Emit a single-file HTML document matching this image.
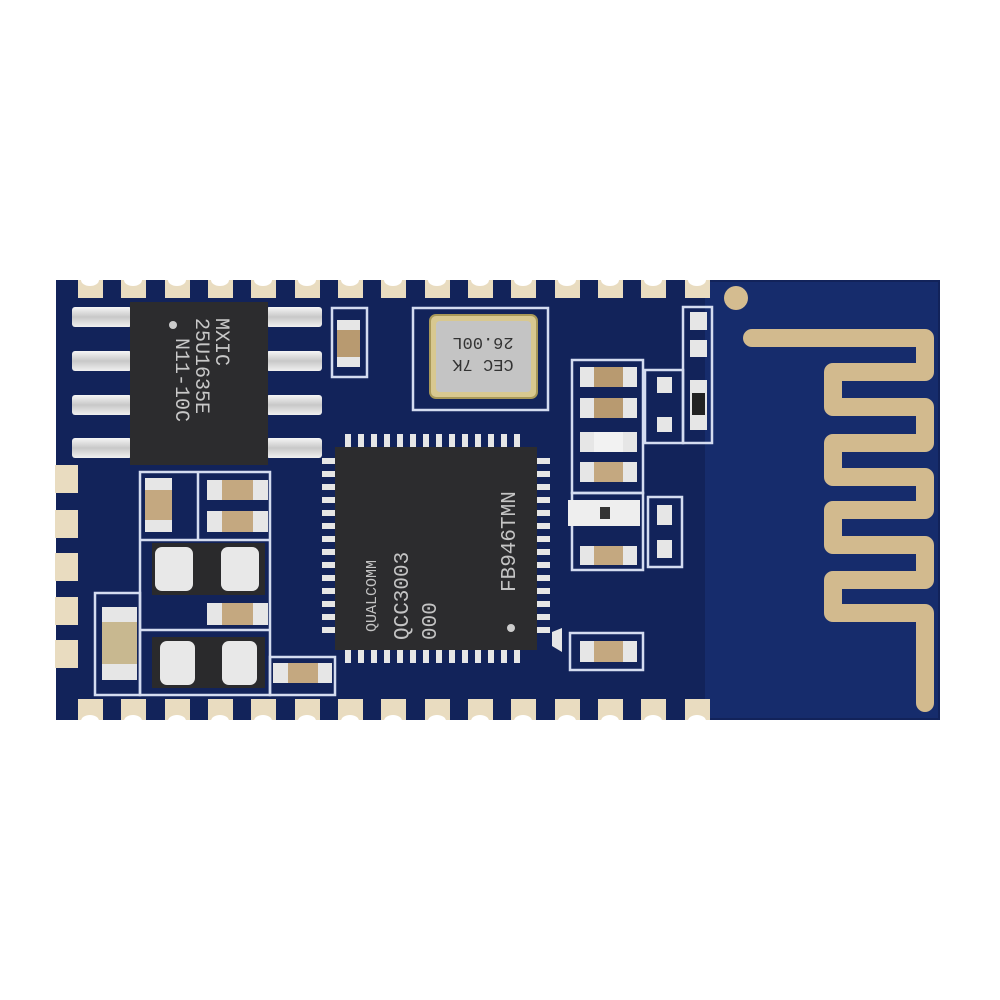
<!DOCTYPE html>
<html><head><style>html,body{margin:0;padding:0;background:#fff;width:1000px;height:1000px;overflow:hidden}</style></head>
<body>
<svg width="1000" height="1000" viewBox="0 0 1000 1000" xmlns="http://www.w3.org/2000/svg">
<defs>
<linearGradient id="pin" x1="0" y1="0" x2="0" y2="1"><stop offset="0" stop-color="#f6f6f6"/><stop offset="0.5" stop-color="#c8c8c8"/><stop offset="1" stop-color="#f0f0f0"/></linearGradient>
</defs>
<rect x="0" y="0" width="1000" height="1000" fill="#fff"/>
<!-- board -->
<rect x="56" y="280" width="884" height="440" fill="#12235a"/>
<rect x="705" y="282" width="233" height="436" fill="#162c6c"/>
<!-- top & bottom pads -->
<g id="tp" fill="#e9dcc0">
<rect x="78" y="280" width="25" height="18"/><rect x="121" y="280" width="25" height="18"/><rect x="165" y="280" width="25" height="18"/><rect x="208" y="280" width="25" height="18"/><rect x="251" y="280" width="25" height="18"/><rect x="295" y="280" width="25" height="18"/><rect x="338" y="280" width="25" height="18"/><rect x="381" y="280" width="25" height="18"/><rect x="425" y="280" width="25" height="18"/><rect x="468" y="280" width="25" height="18"/><rect x="511" y="280" width="25" height="18"/><rect x="555" y="280" width="25" height="18"/><rect x="598" y="280" width="25" height="18"/><rect x="641" y="280" width="25" height="18"/><rect x="685" y="280" width="25" height="18"/>
<rect x="78" y="699" width="25" height="21"/><rect x="121" y="699" width="25" height="21"/><rect x="165" y="699" width="25" height="21"/><rect x="208" y="699" width="25" height="21"/><rect x="251" y="699" width="25" height="21"/><rect x="295" y="699" width="25" height="21"/><rect x="338" y="699" width="25" height="21"/><rect x="381" y="699" width="25" height="21"/><rect x="425" y="699" width="25" height="21"/><rect x="468" y="699" width="25" height="21"/><rect x="511" y="699" width="25" height="21"/><rect x="555" y="699" width="25" height="21"/><rect x="598" y="699" width="25" height="21"/><rect x="641" y="699" width="25" height="21"/><rect x="685" y="699" width="25" height="21"/>
<rect x="55" y="465" width="23" height="28"/><rect x="55" y="510" width="23" height="28"/><rect x="55" y="553" width="23" height="28"/><rect x="55" y="597" width="23" height="28"/><rect x="55" y="640" width="23" height="28"/>
</g>
<!-- castellation holes -->
<g fill="#fff">
<ellipse cx="90" cy="280" rx="9" ry="6"/><ellipse cx="133" cy="280" rx="9" ry="6"/><ellipse cx="177" cy="280" rx="9" ry="6"/><ellipse cx="220" cy="280" rx="9" ry="6"/><ellipse cx="263" cy="280" rx="9" ry="6"/><ellipse cx="307" cy="280" rx="9" ry="6"/><ellipse cx="350" cy="280" rx="9" ry="6"/><ellipse cx="393" cy="280" rx="9" ry="6"/><ellipse cx="437" cy="280" rx="9" ry="6"/><ellipse cx="480" cy="280" rx="9" ry="6"/><ellipse cx="523" cy="280" rx="9" ry="6"/><ellipse cx="567" cy="280" rx="9" ry="6"/><ellipse cx="610" cy="280" rx="9" ry="6"/><ellipse cx="653" cy="280" rx="9" ry="6"/><ellipse cx="697" cy="280" rx="9" ry="6"/>
<ellipse cx="90" cy="721" rx="9" ry="6"/><ellipse cx="133" cy="721" rx="9" ry="6"/><ellipse cx="177" cy="721" rx="9" ry="6"/><ellipse cx="220" cy="721" rx="9" ry="6"/><ellipse cx="263" cy="721" rx="9" ry="6"/><ellipse cx="307" cy="721" rx="9" ry="6"/><ellipse cx="350" cy="721" rx="9" ry="6"/><ellipse cx="393" cy="721" rx="9" ry="6"/><ellipse cx="437" cy="721" rx="9" ry="6"/><ellipse cx="480" cy="721" rx="9" ry="6"/><ellipse cx="523" cy="721" rx="9" ry="6"/><ellipse cx="567" cy="721" rx="9" ry="6"/><ellipse cx="610" cy="721" rx="9" ry="6"/><ellipse cx="653" cy="721" rx="9" ry="6"/><ellipse cx="697" cy="721" rx="9" ry="6"/>
</g>
<!-- silkscreen outlines -->
<g fill="none" stroke="#d4dcf0" stroke-width="2.5">
<rect x="413" y="308" width="135" height="102"/>
<rect x="140" y="472" width="130" height="223"/>
<rect x="95" y="593" width="45" height="102"/>
<rect x="270" y="657" width="65" height="38"/>
<rect x="332" y="308" width="35" height="69"/>
<rect x="572" y="360" width="71" height="133"/>
<rect x="645" y="370" width="38" height="73"/>
<rect x="683" y="307" width="29" height="136"/>
<rect x="572" y="493" width="71" height="77"/>
<rect x="648" y="497" width="34" height="70"/>
<rect x="570" y="633" width="73" height="37"/>
<line x1="140" y1="540" x2="270" y2="540"/>
<line x1="140" y1="630" x2="270" y2="630"/>
<line x1="198" y1="472" x2="198" y2="540"/>
</g>
<!-- SOP8 pins -->
<g fill="url(#pin)">
<rect x="72" y="307" width="60" height="20" rx="3"/><rect x="72" y="351" width="60" height="20" rx="3"/><rect x="72" y="395" width="60" height="20" rx="3"/><rect x="72" y="438" width="60" height="20" rx="3"/>
<rect x="266" y="307" width="56" height="20" rx="3"/><rect x="266" y="351" width="56" height="20" rx="3"/><rect x="266" y="395" width="56" height="20" rx="3"/><rect x="266" y="438" width="56" height="20" rx="3"/>
</g>
<rect x="130" y="302" width="138" height="163" fill="#2c2c2e"/>
<circle cx="173" cy="325" r="4" fill="#ccc"/>
<g font-family="Liberation Mono, monospace" font-size="20" fill="#c8c8c8">
<text transform="translate(216,318) rotate(90)">MXIC</text>
<text transform="translate(196,318) rotate(90)">25U1635E</text>
<text transform="translate(176,338) rotate(90)">N11-10C</text>
</g>
<!-- crystal -->
<rect x="430" y="315" width="107" height="83" rx="6" fill="#d8c890" stroke="#a89858" stroke-width="2"/>
<rect x="436" y="321" width="95" height="71" rx="4" fill="#c4c4c4"/>
<g font-family="Liberation Mono, monospace" font-size="17" fill="#333" text-anchor="middle">
<text transform="translate(483,338) rotate(180)">26.00L</text>
<text transform="translate(483,360) rotate(180)">CEC 7K</text>
</g>
<!-- QFN pins -->
<g fill="#e6e6e6">
<rect x="345" y="434" width="6" height="13"/><rect x="358" y="434" width="6" height="13"/><rect x="371" y="434" width="6" height="13"/><rect x="384" y="434" width="6" height="13"/><rect x="397" y="434" width="6" height="13"/><rect x="410" y="434" width="6" height="13"/><rect x="423" y="434" width="6" height="13"/><rect x="436" y="434" width="6" height="13"/><rect x="449" y="434" width="6" height="13"/><rect x="462" y="434" width="6" height="13"/><rect x="475" y="434" width="6" height="13"/><rect x="488" y="434" width="6" height="13"/><rect x="501" y="434" width="6" height="13"/><rect x="514" y="434" width="6" height="13"/>
<rect x="345" y="650" width="6" height="13"/><rect x="358" y="650" width="6" height="13"/><rect x="371" y="650" width="6" height="13"/><rect x="384" y="650" width="6" height="13"/><rect x="397" y="650" width="6" height="13"/><rect x="410" y="650" width="6" height="13"/><rect x="423" y="650" width="6" height="13"/><rect x="436" y="650" width="6" height="13"/><rect x="449" y="650" width="6" height="13"/><rect x="462" y="650" width="6" height="13"/><rect x="475" y="650" width="6" height="13"/><rect x="488" y="650" width="6" height="13"/><rect x="501" y="650" width="6" height="13"/><rect x="514" y="650" width="6" height="13"/>
<rect x="322" y="458" width="13" height="6"/><rect x="322" y="471" width="13" height="6"/><rect x="322" y="484" width="13" height="6"/><rect x="322" y="497" width="13" height="6"/><rect x="322" y="510" width="13" height="6"/><rect x="322" y="523" width="13" height="6"/><rect x="322" y="536" width="13" height="6"/><rect x="322" y="549" width="13" height="6"/><rect x="322" y="562" width="13" height="6"/><rect x="322" y="575" width="13" height="6"/><rect x="322" y="588" width="13" height="6"/><rect x="322" y="601" width="13" height="6"/><rect x="322" y="614" width="13" height="6"/><rect x="322" y="627" width="13" height="6"/>
<rect x="537" y="458" width="13" height="6"/><rect x="537" y="471" width="13" height="6"/><rect x="537" y="484" width="13" height="6"/><rect x="537" y="497" width="13" height="6"/><rect x="537" y="510" width="13" height="6"/><rect x="537" y="523" width="13" height="6"/><rect x="537" y="536" width="13" height="6"/><rect x="537" y="549" width="13" height="6"/><rect x="537" y="562" width="13" height="6"/><rect x="537" y="575" width="13" height="6"/><rect x="537" y="588" width="13" height="6"/><rect x="537" y="601" width="13" height="6"/><rect x="537" y="614" width="13" height="6"/><rect x="537" y="627" width="13" height="6"/>
</g>
<rect x="335" y="447" width="202" height="203" fill="#2c2c2e"/>
<circle cx="511" cy="628" r="4" fill="#ccc"/>
<polygon points="552,632 562,628 562,652 552,646" fill="#e6e6e6"/>
<g font-family="Liberation Mono, monospace" fill="#c4c4c4">
<text transform="translate(376,632) rotate(-90)" font-size="15">QUALCOMM</text>
<text transform="translate(408,640) rotate(-90)" font-size="21">QCC3003</text>
<text transform="translate(436,640) rotate(-90)" font-size="21">000</text>
<text transform="translate(515,592) rotate(-90)" font-size="21">FB946TMN</text>
</g>
<!-- passives -->
<g>
<rect x="337" y="320" width="23" height="47" fill="#e6e6e6"/><rect x="337" y="330" width="23" height="27" fill="#b89a70"/>
<rect x="145" y="478" width="27" height="54" fill="#e6e6e6"/><rect x="145" y="490" width="27" height="30" fill="#c4a880"/>
<rect x="207" y="480" width="61" height="20" fill="#e6e6e6"/><rect x="222" y="480" width="31" height="20" fill="#c4a880"/>
<rect x="207" y="511" width="61" height="21" fill="#e6e6e6"/><rect x="222" y="511" width="31" height="21" fill="#c4a880"/>
<rect x="152" y="543" width="113" height="52" fill="#2a2a2c"/><rect x="155" y="547" width="38" height="44" rx="7" fill="#e8e8e8"/><rect x="221" y="547" width="38" height="44" rx="7" fill="#e8e8e8"/>
<rect x="207" y="603" width="61" height="22" fill="#e6e6e6"/><rect x="222" y="603" width="31" height="22" fill="#c4a880"/>
<rect x="152" y="637" width="113" height="51" fill="#2a2a2c"/><rect x="160" y="641" width="35" height="44" rx="7" fill="#e8e8e8"/><rect x="222" y="641" width="35" height="44" rx="7" fill="#e8e8e8"/>
<rect x="102" y="607" width="35" height="73" fill="#e6e6e6"/><rect x="102" y="622" width="35" height="42" fill="#c8b890"/>
<rect x="273" y="663" width="59" height="20" fill="#e6e6e6"/><rect x="288" y="663" width="30" height="20" fill="#c4a880"/>
<rect x="580" y="367" width="57" height="20" fill="#e6e6e6"/><rect x="594" y="367" width="29" height="20" fill="#b89a70"/>
<rect x="580" y="398" width="57" height="20" fill="#e6e6e6"/><rect x="594" y="398" width="29" height="20" fill="#b89a70"/>
<rect x="580" y="432" width="57" height="20" fill="#e6e6e6"/><rect x="594" y="432" width="29" height="20" fill="#f2f2f2"/>
<rect x="580" y="462" width="57" height="20" fill="#e6e6e6"/><rect x="594" y="462" width="29" height="20" fill="#c4a880"/>
<rect x="580" y="546" width="57" height="19" fill="#e6e6e6"/><rect x="594" y="546" width="29" height="19" fill="#c4a880"/>
<rect x="580" y="641" width="57" height="21" fill="#e6e6e6"/><rect x="594" y="641" width="29" height="21" fill="#c4a880"/>
<rect x="568" y="500" width="72" height="26" fill="#eeeeee"/><rect x="600" y="507" width="10" height="12" fill="#333"/>
<rect x="657" y="505" width="15" height="20" fill="#e6e6e6"/><rect x="657" y="540" width="15" height="18" fill="#e6e6e6"/>
<rect x="657" y="377" width="15" height="16" fill="#e6e6e6"/><rect x="657" y="417" width="15" height="15" fill="#e6e6e6"/>
<rect x="690" y="312" width="17" height="18" fill="#e6e6e6"/><rect x="690" y="340" width="17" height="17" fill="#e6e6e6"/><rect x="690" y="380" width="17" height="50" fill="#e6e6e6"/><rect x="692" y="393" width="13" height="22" fill="#222"/>
</g>
<!-- antenna -->
<circle cx="736" cy="298" r="12" fill="#d4bc90"/>
<path d="M752,338 H925 V372 H833 V407 H925 V443 H833 V477 H925 V510 H833 V545 H925 V580 H833 V613 H925 V703" fill="none" stroke="#d2ba8e" stroke-width="18" stroke-linejoin="round" stroke-linecap="round"/>
</svg>
</body></html>
